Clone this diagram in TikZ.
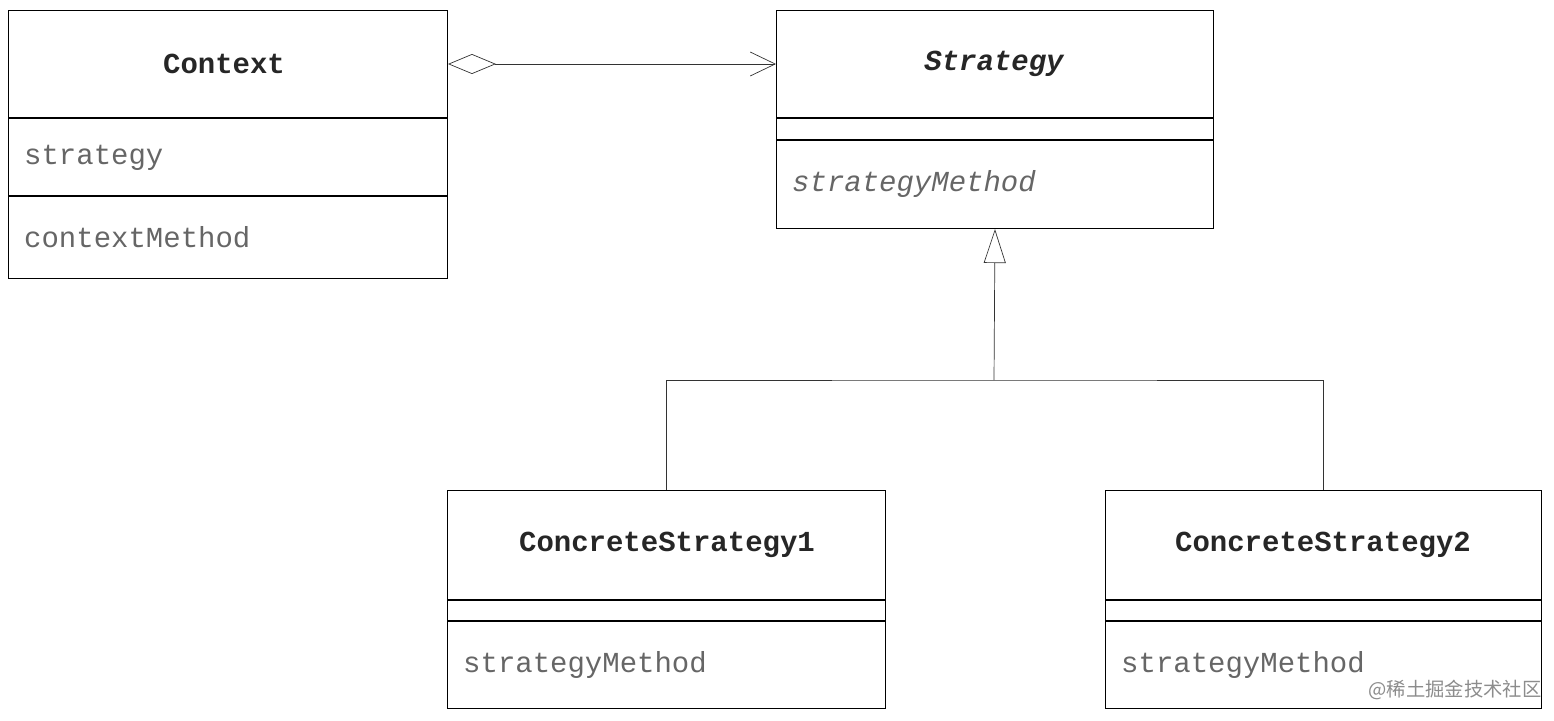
\documentclass[tikz,border=0pt]{standalone}
\usepackage{fontspec}
\setmonofont{Liberation Mono}
\newfontfamily\cjk{Noto Sans CJK SC}
\usetikzlibrary{arrows.meta,calc}

\tikzset{
  umlbox/.style={draw, semithick, inner sep=0, anchor=north west},
  umltitle/.style={font=\ttfamily\bfseries\fontsize{16.5}{20}\selectfont, text=black!85},
  umlitem/.style={font=\ttfamily\fontsize{16.5}{20}\selectfont, text=black!60, anchor=west},
  umlline/.style={thin, black!80}
}

\begin{document}
\begin{tikzpicture}[x=0.02cm, y=-0.02cm]
  \useasboundingbox (0,0) rectangle (1554,720);

  % classes
  \node[umlbox, minimum width=8.78cm, minimum height=5.36cm] (ctx) at (8,10) {};
  \node[umlbox, minimum width=8.74cm, minimum height=4.36cm] (strat) at (776,10) {};
  \node[umlbox, minimum width=8.76cm, minimum height=4.36cm] (cs1) at (447,490) {};
  \node[umlbox, minimum width=8.72cm, minimum height=4.36cm] (cs2) at (1105,490) {};

  % compartments
  \draw[semithick] (8,118) -- (447,118) (8,196) -- (447,196);
  \draw[semithick] (776,118) -- (1213,118) (776,140) -- (1213,140);
  \draw[semithick] (447,600) -- (885,600) (447,621) -- (885,621);
  \draw[semithick] (1105,600) -- (1541,600) (1105,621) -- (1541,621);

  % texts
  \node[umltitle] (ctxname) at (224,64) {Context};
  \node[umlitem] (ctxattr) at (18,158) {strategy};
  \node[umlitem] (ctxop) at (18,237) {contextMethod};
  \node[umltitle, font=\ttfamily\bfseries\itshape\fontsize{16.5}{20}\selectfont] (stratname) at (994,64) {Strategy};
  \node[umlitem, font=\ttfamily\itshape\fontsize{16.5}{20}\selectfont] (stratop) at (786,184) {strategyMethod};
  \node[umltitle] (cs1name) at (667,545) {ConcreteStrategy1};
  \node[umlitem] (cs1op) at (457,665) {strategyMethod};
  \node[umltitle] (cs2name) at (1323,545) {ConcreteStrategy2};
  \node[umlitem] (cs2op) at (1115,665) {strategyMethod};

  % aggregation
  \draw[umlline, {Diamond[open, length=0.96cm, width=0.4cm]}-{Straight Barb[length=0.5cm, width=0.48cm]}]
    (ctx.east |- ctxname) -- (strat.west |- stratname);

  % inheritance
  \coordinate (fork) at (994,380);
  \draw[umlline, -{Triangle[open, length=0.68cm, width=0.44cm]}] (fork) -- (strat.south);
  \draw[umlline] (cs1.north) |- (fork) -| (cs2.north);

  % watermark
  \node[font=\cjk\fontsize{11}{13}\selectfont, text=black!45] (wm) at (1455,690) {@稀土掘金技术社区};
\end{tikzpicture}
\end{document}
